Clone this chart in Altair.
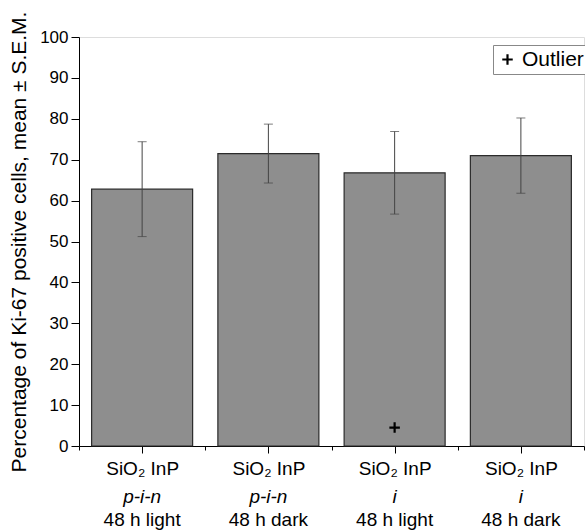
import json
import altair as alt
import pandas as pd

# ---- data ----
group_idx = [0, 1, 2, 3]
line1 = ["SiO₂ InP", "SiO₂ InP", "SiO₂ InP", "SiO₂ InP"]
line2 = ["p-i-n", "p-i-n", "i", "i"]
line3 = ["48 h light", "48 h dark", "48 h light", "48 h dark"]
means = [62.8, 71.5, 66.8, 71.0]
sems = [11.6, 7.2, 10.1, 9.2]

outlier_idx = [2]
outlier_val = [4.5]
outlier_label = ["Outlier"]

y_ticks = list(range(0, 101, 5))
x_ticks = [-0.5, 0, 0.5, 1, 1.5, 2, 2.5, 3, 3.5]

df = pd.DataFrame({"idx": group_idx, "l1": line1, "l2": line2, "l3": line3,
                   "mean": means, "sem": sems})
df_out = pd.DataFrame({"idx": outlier_idx, "val": outlier_val, "lbl": outlier_label})

W, H = 505, 409
FONT = "Liberation Sans"

xscale = alt.Scale(domain=[-0.5, 3.5], nice=False, zero=False)
yscale = alt.Scale(domain=[0, 100], nice=False)

label_expr = ("datum.value % 1 === 0 ? " + json.dumps(line1, ensure_ascii=False)
              + "[datum.value] : ''")

x_axis = alt.Axis(
    values=x_ticks, title=None, labelExpr=label_expr, grid=False,
    tickSize={"condition": {"test": "datum.value % 1 === 0", "value": 7}, "value": 4},
    labelFontSize=19, labelPadding=6, labelColor="black",
    labelFlush=False, labelOverlap=False, labelBaseline="top",
    domainColor="black", tickColor="black", labelFont=FONT,
)
y_axis = alt.Axis(
    values=y_ticks, grid=False,
    labelExpr="datum.value % 10 === 0 ? datum.label : ''",
    tickSize={"condition": {"test": "datum.value % 10 === 0", "value": 8}, "value": 4},
    labelFontSize=17, labelColor="black", labelPadding=3, labelFont=FONT,
    domainColor="black", tickColor="black",
    title="Percentage of Ki-67 positive cells, mean ± S.E.M.",
    titleFontSize=21, titleFontWeight="normal", titleColor="black", titleFont=FONT,
    titleAngle=-90, titleX=-60, titleY=H / 2, titleAlign="center", titleBaseline="middle",
    labelOverlap=False,
)

base = alt.Chart(df).transform_calculate(
    x0="datum.idx - 0.4", x1="datum.idx + 0.4",
    lo="datum.mean - datum.sem", hi="datum.mean + datum.sem",
    zero0="0",
)

bars = base.mark_bar(fill="#8e8e8e", stroke="#2b2b2b", strokeWidth=1.2).encode(
    x=alt.X("x0:Q", scale=xscale, axis=x_axis),
    x2="x1:Q",
    y=alt.Y("mean:Q", scale=yscale, axis=y_axis),
    y2="zero0:Q",
)

err = base.mark_rule(color="#444444", strokeWidth=1).encode(
    x=alt.X("idx:Q", scale=xscale), y=alt.Y("lo:Q", scale=yscale), y2="hi:Q"
)
cap_hi = base.mark_tick(color="#444444", thickness=1, size=9, orient="horizontal").encode(
    x=alt.X("idx:Q", scale=xscale), y=alt.Y("hi:Q", scale=yscale)
)
cap_lo = base.mark_tick(color="#444444", thickness=1, size=9, orient="horizontal").encode(
    x=alt.X("idx:Q", scale=xscale), y=alt.Y("lo:Q", scale=yscale)
)

mid_text = base.mark_text(fontSize=19, fontStyle="italic", font=FONT, color="black",
                          baseline="middle", dy=51).encode(
    x=alt.X("idx:Q", scale=xscale), y=alt.datum(0), text="l2:N"
)
low_text = base.mark_text(fontSize=19, font=FONT, color="black",
                          baseline="middle", dy=74).encode(
    x=alt.X("idx:Q", scale=xscale), y=alt.datum(0), text="l3:N"
)

plus_path = "M-1,0L1,0M0,-1L0,1"
outl = alt.Chart(df_out).mark_point(filled=False, color="black", strokeWidth=2.2,
                                    size=110, opacity=1).encode(
    x=alt.X("idx:Q", scale=xscale),
    y=alt.Y("val:Q", scale=yscale),
    shape=alt.Shape("lbl:N", scale=alt.Scale(range=[plus_path]),
                    legend=alt.Legend(title=None, orient="none", legendX=414, legendY=8,
                                      strokeColor="#888888", fillColor="white",
                                      padding=4, labelFontSize=21, labelFont=FONT,
                                      labelColor="black", symbolSize=110,
                                      symbolStrokeColor="black", symbolStrokeWidth=2.2,
                                      symbolType=plus_path, labelOffset=4)),
)

chart = alt.layer(bars, err, cap_hi, cap_lo, mid_text, low_text, outl).properties(
    width=W, height=H,
    autosize=alt.AutoSizeParams(type="none"),
    padding={"left": 79, "top": 37, "right": 1, "bottom": 84},
    background="white",
).configure_view(stroke="#333333", strokeWidth=1.2).configure(font=FONT)

chart.save("out.html", embed_options={"renderer": "svg", "actions": False})
